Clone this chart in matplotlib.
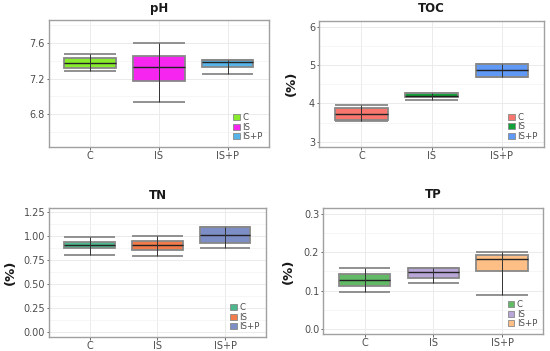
import matplotlib
matplotlib.use("Agg")
import matplotlib.pyplot as plt
import matplotlib.patches as mpatches
import numpy as np

categories = ["C", "IS", "IS+P"]

# pH
ph_q1 = [7.32, 7.175, 7.335]
ph_med = [7.375, 7.335, 7.383]
ph_q3 = [7.435, 7.458, 7.413]
ph_lo = [7.29, 6.935, 7.25]
ph_hi = [7.48, 7.60, 7.413]

# TOC
toc_q1 = [3.56, 4.165, 4.70]
toc_med = [3.73, 4.20, 4.86]
toc_q3 = [3.887, 4.26, 5.03]
toc_lo = [3.53, 4.10, 4.70]
toc_hi = [3.95, 4.28, 5.04]

# TN
tn_q1 = [0.868, 0.847, 0.92]
tn_med = [0.903, 0.899, 1.003]
tn_q3 = [0.9375, 0.941, 1.087]
tn_lo = [0.799, 0.788, 0.871]
tn_hi = [0.986, 1.00, 1.087]

# TP
tp_q1 = [0.112, 0.134, 0.150]
tp_med = [0.127, 0.148, 0.182]
tp_q3 = [0.1426, 0.160, 0.194]
tp_lo = [0.0965, 0.121, 0.089]
tp_hi = [0.159, 0.160, 0.202]

ph_colors = ["#88EC2C", "#F626F0", "#56B4E9"]
toc_colors = ["#F8766D", "#12A03A", "#5F98F5"]
tn_colors = ["#4DB88E", "#F27B4C", "#7D8EC6"]
tp_colors = ["#62BA66", "#B8A6D8", "#FDBF85"]

fig = plt.figure(figsize=(5.5, 3.51), dpi=100)

GRID = "#EBEBEB"
TXT = "#4D4D4D"


def panel(rect, title, q1, med, q3, lo, hi, colors, ylim, yticks, ylabels,
          minor, ylabel, title_y, label_x):
    ax = fig.add_axes(rect)
    pos = np.arange(1, len(categories) + 1)
    stats = []
    for i in range(len(categories)):
        stats.append(dict(med=med[i], q1=q1[i], q3=q3[i],
                          whislo=q3[i], whishi=q3[i], fliers=[]))
    bp = ax.bxp(stats, positions=pos, widths=0.75, patch_artist=True,
                showcaps=False, showfliers=False,
                medianprops=dict(color="#222222", lw=1.0),
                whiskerprops=dict(lw=0),
                boxprops=dict(edgecolor="#888888", lw=1.3), zorder=3)
    for patch, c in zip(bp["boxes"], colors):
        patch.set_facecolor(c)
    ax.hlines(lo, pos - 0.375, pos + 0.375, color="#888888", lw=1.3, zorder=4)
    ax.hlines(hi, pos - 0.375, pos + 0.375, color="#888888", lw=1.3, zorder=4)
    ax.vlines(pos, lo, hi, color="#333333", lw=0.7, zorder=5)
    ax.set_xlim(0.4, 3.6)
    ax.set_ylim(*ylim)
    ax.set_xticks(pos)
    ax.set_xticklabels(categories)
    ax.set_yticks(yticks)
    ax.set_yticklabels(ylabels)
    ax.set_yticks(minor, minor=True)
    ax.tick_params(axis="both", labelsize=7, colors=TXT, length=1.8,
                   width=0.6, pad=1.2)
    ax.tick_params(axis="y", which="minor", length=0)
    ax.grid(True, which="major", color=GRID, lw=0.7, zorder=0)
    ax.grid(True, which="minor", axis="y", color="#F3F3F3", lw=0.5, zorder=0)
    ax.set_axisbelow(True)
    for s in ax.spines.values():
        s.set_color("#A0A0A0")
        s.set_linewidth(1.0)
    fig.text(rect[0] + rect[2] / 2, title_y, title, ha="center", va="center",
             fontsize=8.5, fontweight="bold", color="#1A1A1A")
    if ylabel:
        ax.set_ylabel(ylabel, fontsize=9.5, fontweight="bold", color="#1A1A1A")
        ax.yaxis.set_label_coords(label_x, 0.5)
    handles = [mpatches.Patch(facecolor=c, edgecolor="#888888", lw=0.6,
                              label=l) for c, l in zip(colors, categories)]
    ax.legend(handles=handles, loc="lower right", fontsize=6.2, frameon=False,
              handlelength=0.8, handleheight=0.7, handletextpad=0.3,
              labelspacing=0.05, borderaxespad=0.3, labelcolor=TXT)
    return ax


panel([0.089, 0.581, 0.400, 0.362], "pH", ph_q1, ph_med, ph_q3, ph_lo, ph_hi,
      ph_colors, (6.43, 7.86), [6.8, 7.2, 7.6], ["6.8", "7.2", "7.6"],
      [6.6, 7.0, 7.4, 7.8], None, 0.977, None)

panel([0.5806, 0.582, 0.4084, 0.359], "TOC", toc_q1, toc_med, toc_q3, toc_lo,
      toc_hi, toc_colors, (2.87, 6.16), [3, 4, 5, 6], ["3", "4", "5", "6"],
      [3.5, 4.5, 5.5], "(%)", 0.977, -0.095)

panel([0.0896, 0.0393, 0.3934, 0.3673], "TN", tn_q1, tn_med, tn_q3, tn_lo,
      tn_hi, tn_colors, (-0.056, 1.285),
      [0, 0.25, 0.5, 0.75, 1.0, 1.25],
      ["0.00", "0.25", "0.50", "0.75", "1.00", "1.25"],
      [0.125, 0.375, 0.625, 0.875, 1.125], "(%)", 0.443, -0.152)

panel([0.588, 0.0476, 0.400, 0.359], "TP", tp_q1, tp_med, tp_q3, tp_lo,
      tp_hi, tp_colors, (-0.0139, 0.3148), [0.0, 0.1, 0.2, 0.3],
      ["0.0", "0.1", "0.2", "0.3"], [0.05, 0.15, 0.25], "(%)", 0.445, -0.131)

fig.savefig("out.png", dpi=100, facecolor="white")
